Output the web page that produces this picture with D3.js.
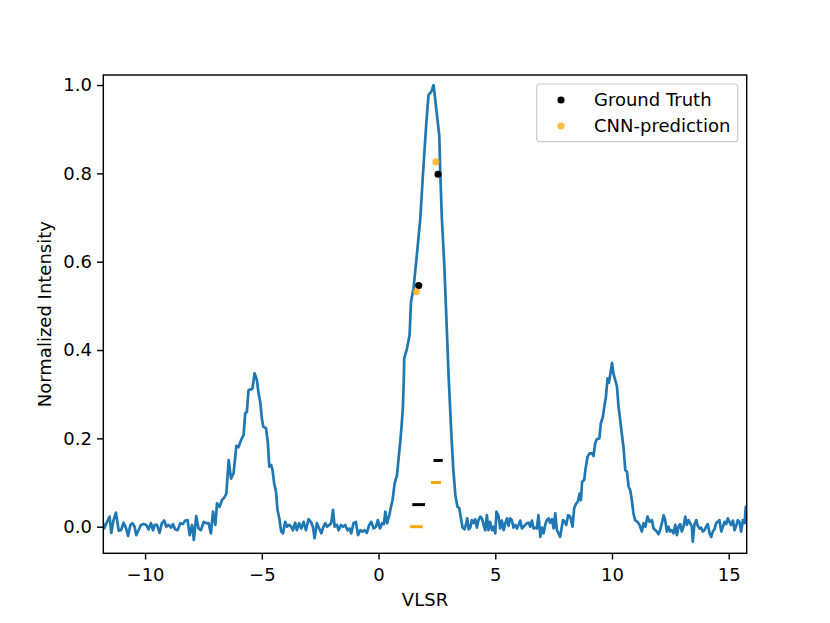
<!DOCTYPE html>
<html>
<head>
<meta charset="utf-8">
<script src="https://cdn.jsdelivr.net/npm/d3@7"></script>
<style>
  body { margin: 0; background: #fff; }
  text { font-family: "DejaVu Sans", sans-serif; }
</style>
</head>
<body>
<div id="chart"></div>
<script>
const width = 830;
const height = 623;
const margin = { top: 75, right: 83.3, bottom: 69.7, left: 103.3 };

// spectrum
const vlsr = [
  -11.79, -11.75, -11.63, -11.52, -11.45, -11.35, -11.25, -11.13, -11.03, -10.92,
  -10.81, -10.73, -10.63, -10.54, -10.45, -10.38, -10.28, -10.18, -10.06, -9.95,
  -9.85, -9.75, -9.66, -9.59, -9.49, -9.38, -9.28, -9.18, -9.09, -8.99,
  -8.89, -8.81, -8.71, -8.61, -8.49, -8.38, -8.28, -8.18, -8.09, -7.99,
  -7.91, -7.81, -7.71, -7.61, -7.49, -7.38, -7.28, -7.18, -7.09, -6.99,
  -6.92, -6.81, -6.71, -6.61, -6.52, -6.42, -6.32, -6.21, -6.09, -6.00,
  -5.89, -5.78, -5.71, -5.64, -5.57, -5.49, -5.45, -5.40, -5.31, -5.21,
  -5.14, -5.07, -4.99, -4.93, -4.82, -4.74, -4.68, -4.60, -4.54, -4.47,
  -4.39, -4.33, -4.25, -4.17, -4.09, -4.00, -3.92, -3.82, -3.74, -3.67,
  -3.57, -3.50, -3.40, -3.31, -3.21, -3.11, -3.00, -2.90, -2.81, -2.74,
  -2.64, -2.54, -2.45, -2.36, -2.28, -2.21, -2.11, -2.03, -1.95, -1.88,
  -1.78, -1.71, -1.61, -1.52, -1.43, -1.33, -1.24, -1.17, -1.07, -0.97,
  -0.88, -0.78, -0.69, -0.60, -0.50, -0.40, -0.31, -0.21, -0.11, -0.03,
  0.06, 0.15, 0.23, 0.29, 0.37, 0.46, 0.54, 0.60, 0.69, 0.79,
  0.86, 0.93, 0.99, 1.04, 1.08, 1.10, 1.22, 1.33, 1.39, 1.50,
  1.64, 1.79, 1.90, 2.04, 2.14, 2.26, 2.36, 2.47, 2.60, 2.64,
  2.71, 2.81, 2.89, 3.00, 3.12, 3.20, 3.29, 3.38, 3.46, 3.54,
  3.60, 3.68, 3.74, 3.80, 3.86, 3.93, 4.00, 4.07, 4.14, 4.21,
  4.28, 4.36, 4.43, 4.50, 4.57, 4.64, 4.71, 4.78, 4.86, 4.93,
  5.00, 5.05, 5.14, 5.21, 5.28, 5.36, 5.43, 5.50, 5.57, 5.64,
  5.71, 5.78, 5.86, 5.93, 6.00, 6.07, 6.14, 6.21, 6.28, 6.36,
  6.43, 6.50, 6.57, 6.64, 6.71, 6.78, 6.85, 6.93, 7.00, 7.07,
  7.14, 7.21, 7.28, 7.35, 7.43, 7.50, 7.57, 7.64, 7.71, 7.78,
  7.90, 7.98, 8.04, 8.12, 8.21, 8.31, 8.38, 8.47, 8.54, 8.61,
  8.67, 8.72, 8.81, 8.87, 8.95, 9.04, 9.14, 9.21, 9.28, 9.35,
  9.46, 9.52, 9.61, 9.67, 9.74, 9.81, 9.87, 9.92, 10.00, 10.06,
  10.14, 10.21, 10.28, 10.35, 10.42, 10.49, 10.57, 10.64, 10.71, 10.78,
  10.85, 10.92, 10.99, 11.09, 11.18, 11.28, 11.35, 11.43, 11.52, 11.61,
  11.71, 11.78, 11.92, 11.99, 12.06, 12.14, 12.21, 12.28, 12.35, 12.42,
  12.49, 12.56, 12.64, 12.71, 12.78, 12.85, 12.92, 12.99, 13.06, 13.14,
  13.21, 13.28, 13.35, 13.42, 13.46, 13.53, 13.61, 13.66, 13.75, 13.82,
  13.89, 13.96, 14.03, 14.10, 14.18, 14.25, 14.32, 14.39, 14.46, 14.53,
  14.60, 14.68, 14.75, 14.82, 14.89, 14.96, 15.03, 15.10, 15.18, 15.25,
  15.32, 15.39, 15.46, 15.53, 15.61, 15.68, 15.73, 15.77
];
const intensity = [
  0.006, -0.004, 0.011, 0.023, -0.014, 0.015, 0.032, -0.009, -0.008, 0.009,
  -0.004, -0.021, 0.004, 0.008, 0.000, -0.019, -0.008, 0.004, 0.006, 0.004,
  -0.006, 0.008, -0.008, 0.004, 0.004, -0.014, 0.008, 0.014, 0.000, 0.004,
  -0.002, 0.006, -0.006, -0.008, 0.008, 0.006, 0.014, 0.015, -0.019, 0.004,
  -0.030, 0.024, -0.004, -0.008, 0.011, 0.008, 0.008, -0.015, 0.034, 0.004,
  0.053, 0.045, 0.060, 0.066, 0.075, 0.151, 0.109, 0.121, 0.183, 0.180,
  0.196, 0.208, 0.257, 0.260, 0.309, 0.311, 0.311, 0.313, 0.347, 0.332,
  0.302, 0.283, 0.242, 0.226, 0.223, 0.189, 0.136, 0.140, 0.128, 0.098,
  0.079, 0.038, 0.019, -0.011, -0.015, 0.011, 0.000, 0.004, 0.000, -0.008,
  0.009, -0.008, 0.008, -0.004, 0.011, -0.008, 0.017, 0.011, 0.000, -0.026,
  0.008, -0.004, -0.015, 0.000, 0.008, 0.000, 0.004, 0.008, 0.038, 0.000,
  0.004, -0.008, 0.004, 0.000, 0.004, -0.008, -0.004, -0.015, 0.008, 0.011,
  -0.019, -0.008, -0.011, -0.008, -0.014, 0.004, 0.011, -0.004, 0.000, 0.015,
  -0.004, 0.008, 0.006, 0.034, 0.008, 0.026, 0.047, 0.060, 0.098, 0.117,
  0.155, 0.192, 0.230, 0.268, 0.330, 0.381, 0.404, 0.434, 0.509, 0.540,
  0.615, 0.698, 0.796, 0.909, 0.977, 0.985, 1.000, 0.947, 0.886, 0.810,
  0.700, 0.600, 0.494, 0.343, 0.208, 0.132, 0.072, 0.045, 0.042, 0.015,
  -0.002, -0.006, 0.004, 0.019, -0.006, -0.002, 0.015, 0.008, 0.017, -0.002,
  0.015, 0.023, 0.019, 0.004, -0.008, 0.026, -0.008, 0.011, -0.008, 0.000,
  -0.015, 0.034, 0.024, -0.004, 0.014, -0.008, 0.008, 0.019, 0.002, 0.019,
  0.015, -0.002, 0.004, -0.004, 0.004, 0.014, -0.004, 0.000, 0.004, 0.008,
  0.009, 0.000, 0.014, -0.004, -0.002, -0.004, 0.026, -0.023, -0.002, -0.015,
  0.004, 0.015, 0.019, 0.009, 0.017, -0.004, 0.030, -0.008, -0.015, -0.023,
  0.015, 0.011, 0.004, 0.026, 0.023, 0.000, 0.042, 0.053, 0.057, 0.075,
  0.060, 0.102, 0.106, 0.132, 0.158, 0.166, 0.166, 0.160, 0.189, 0.198,
  0.200, 0.234, 0.249, 0.272, 0.294, 0.336, 0.326, 0.343, 0.371, 0.347,
  0.332, 0.318, 0.272, 0.242, 0.211, 0.181, 0.128, 0.125, 0.091, 0.083,
  0.060, 0.030, 0.015, 0.011, 0.004, -0.011, 0.008, 0.000, 0.023, 0.011,
  0.015, -0.004, -0.011, -0.017, -0.008, 0.008, 0.026, 0.015, -0.011, 0.000,
  -0.011, -0.008, -0.015, 0.004, -0.019, 0.000, 0.006, -0.011, 0.000, 0.023,
  0.004, 0.015, 0.008, 0.000, -0.034, 0.005, 0.015, 0.004, -0.004, -0.002,
  -0.011, -0.008, 0.000, 0.006, -0.015, -0.023, -0.011, -0.006, 0.008, 0.011,
  0.015, -0.011, 0.000, 0.011, 0.006, 0.019, 0.011, 0.004, 0.014, -0.008,
  0.002, 0.015, 0.011, -0.011, 0.015, 0.008, 0.045, 0.045
];

// component centres / peaks / widths
const truthVlsr = [1.72, 2.55];
const truthPeak = [0.546, 0.798];
const truthWidth = [0.55, 0.40];
const truthLevel = [0.05, 0.15];

const cnnVlsr = [1.62, 2.46];
const cnnPeak = [0.532, 0.826];
const cnnWidth = [0.53, 0.43];
const cnnLevel = [0.0, 0.10];

const xTicks = [-10, -5, 0, 5, 10, 15];
const yTicks = [0.0, 0.2, 0.4, 0.6, 0.8, 1.0];
const legendLabels = ["Ground Truth", "CNN-prediction"];

const plotW = width - margin.left - margin.right;
const plotH = height - margin.top - margin.bottom;

const svg = d3.select("#chart").append("svg")
  .attr("width", width)
  .attr("height", height);

const g = svg.append("g").attr("transform", `translate(${margin.left},${margin.top})`);

const x = d3.scaleLinear().domain([-11.79, 15.77]).range([0, plotW]);
const y = d3.scaleLinear().domain([-0.0602, 1.0227]).range([plotH, 0]);

g.append("defs").append("clipPath").attr("id", "clip")
  .append("rect").attr("width", plotW).attr("height", plotH);

const line = d3.line()
  .x((d, i) => x(vlsr[i]))
  .y(d => y(d));

g.append("path")
  .datum(intensity)
  .attr("clip-path", "url(#clip)")
  .attr("fill", "none")
  .attr("stroke", "#1f77b4")
  .attr("stroke-width", 2.7)
  .attr("stroke-linejoin", "round")
  .attr("stroke-linecap", "square")
  .attr("d", line);

// width bars
function bars(vs, ws, ls, color) {
  g.append("g").selectAll("line")
    .data(vs)
    .join("line")
    .attr("x1", (d, i) => x(d - ws[i] / 2))
    .attr("x2", (d, i) => x(d + ws[i] / 2))
    .attr("y1", (d, i) => y(ls[i]))
    .attr("y2", (d, i) => y(ls[i]))
    .attr("stroke", color)
    .attr("stroke-width", 3);
}
bars(truthVlsr, truthWidth, truthLevel, "#000");
bars(cnnVlsr, cnnWidth, cnnLevel, "#ffa500");

g.append("g").selectAll("circle")
  .data(truthVlsr)
  .join("circle")
  .attr("cx", d => x(d))
  .attr("cy", (d, i) => y(truthPeak[i]))
  .attr("r", 3.6)
  .attr("fill", "#000");

g.append("g").selectAll("circle")
  .data(cnnVlsr)
  .join("circle")
  .attr("cx", d => x(d))
  .attr("cy", (d, i) => y(cnnPeak[i]))
  .attr("r", 3.6)
  .attr("fill", "#ffa500")
  .attr("fill-opacity", 0.75);

// axes
const xAxis = g.append("g")
  .attr("transform", `translate(0,${plotH})`)
  .call(d3.axisBottom(x).tickValues(xTicks).tickFormat(d3.format("d")).tickSize(6.3).tickPadding(8.6));
const yAxis = g.append("g")
  .call(d3.axisLeft(y).tickValues(yTicks).tickFormat(d3.format(".1f")).tickSize(6.3).tickPadding(5));

[xAxis, yAxis].forEach(a => {
  a.select(".domain").remove();
  a.selectAll(".tick line").attr("stroke", "#000").attr("stroke-width", 1.44);
  a.selectAll(".tick text").attr("fill", "#000").style("font-size", "18px");
});

g.append("rect")
  .attr("width", plotW)
  .attr("height", plotH)
  .attr("fill", "none")
  .attr("stroke", "#000")
  .attr("stroke-width", 1.44);

// labels
svg.append("text")
  .attr("x", margin.left + plotW / 2)
  .attr("y", 606)
  .attr("text-anchor", "middle")
  .style("font-size", "18px")
  .text("VLSR");

svg.append("text")
  .attr("transform", `translate(51,${margin.top + plotH / 2}) rotate(-90)`)
  .attr("text-anchor", "middle")
  .style("font-size", "18px")
  .text("Normalized Intensity");

// legend
const legend = svg.append("g").attr("transform", "translate(536.7,84)");
legend.append("rect")
  .attr("width", 201)
  .attr("height", 57.7)
  .attr("rx", 3)
  .attr("fill", "#fff")
  .attr("fill-opacity", 0.8)
  .attr("stroke", "#ccc")
  .attr("stroke-width", 1.2);

const legendColors = ["#000", "#ffa500"];
const legendAlpha = [1, 0.75];
legendLabels.forEach((label, i) => {
  const row = legend.append("g").attr("transform", `translate(0,${16 + i * 26})`);
  row.append("circle")
    .attr("cx", 24.3)
    .attr("r", 3.6)
    .attr("fill", legendColors[i])
    .attr("fill-opacity", legendAlpha[i]);
  row.append("text")
    .attr("x", 57.3)
    .attr("y", 6.3)
    .style("font-size", "18px")
    .text(label);
});
</script>
</body>
</html>
